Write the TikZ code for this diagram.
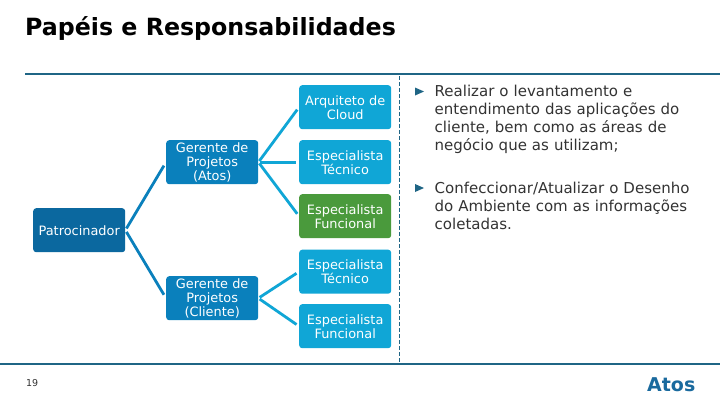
\documentclass[tikz,border=0pt]{standalone}
\usepackage{fontspec}
\setmainfont{DejaVu Sans}
\definecolor{rulec}{HTML}{1F6585}
\definecolor{patc}{HTML}{0B689F}
\definecolor{gerc}{HTML}{0A80BC}
\definecolor{espc}{HTML}{10A6D6}
\definecolor{grec}{HTML}{4A9A3C}
\definecolor{txtc}{HTML}{333333}
\definecolor{logoc}{HTML}{1A6A9E}
\tikzset{
 x=1pt,y=-1pt,
 boxbase/.style={rounded corners=3pt,minimum width=92pt,text width=90pt,align=center,inner sep=0pt,text=white,font=\fontsize{12.9}{14}\selectfont,anchor=north west},
 patbox/.style={boxbase,fill=patc,minimum height=44pt},
 gerbox/.style={boxbase,fill=gerc,minimum height=44pt},
 espbox/.style={boxbase,fill=espc,minimum height=44pt},
 grebox/.style={boxbase,fill=grec,minimum height=44pt},
 linka/.style={draw=gerc,line width=2.8pt,shorten >=4pt,shorten <=2pt},
 linkb/.style={draw=espc,line width=2.8pt,shorten >=3pt,shorten <=1.5pt},
 rulel/.style={draw=rulec,line width=2pt},
 bodyt/.style={anchor=north west,inner sep=0pt,text=txtc,text width=285pt,align=left,font=\fontsize{15}{18}\selectfont},
 bullet/.style={fill=rulec,draw=none},
}
\begin{document}
\begin{tikzpicture}
\useasboundingbox (0,0) rectangle (720,405);
\fill[white] (0,0) rectangle (720,405);
\node[anchor=west,inner sep=0pt,font=\bfseries\fontsize{23.7}{26}\selectfont,text=black] (title) at (25,28) {Papéis e Responsabilidades};
\coordinate (rt1) at (25,74); \coordinate (rt2) at (720,74);
\coordinate (rb1) at (0,364); \coordinate (rb2) at (720,364);
\coordinate (d1) at (399,76); \coordinate (d2) at (399,362);
\draw[rulel] (rt1) -- (rt2);
\draw[rulel] (rb1) -- (rb2);
\draw[draw=rulec,line width=1pt,dash pattern=on 3.5pt off 2.5pt] (d1) -- (d2);
\node[patbox] (pat) at (33,208) {Patrocinador};
\node[gerbox] (gera) at (166,140) {Gerente de\\Projetos\\(Atos)};
\node[gerbox] (gerc) at (166,276) {Gerente de\\Projetos\\(Cliente)};
\node[espbox] (arq) at (299,85) {Arquiteto de\\Cloud};
\node[espbox] (tec1) at (299,140) {Especialista\\Técnico};
\node[grebox] (fun1) at (299,194) {Especialista\\Funcional};
\node[espbox] (tec2) at (299,249.5) {Especialista\\Técnico};
\node[espbox] (fun2) at (299,304) {Especialista\\Funcional};
\draw[linka] (pat.east) -- (gera.west);
\draw[linka] (pat.east) -- (gerc.west);
\draw[linkb] (gera.east) -- (arq.west);
\draw[linkb] (gera.east) -- (tec1.west);
\draw[linkb] (gera.east) -- (fun1.west);
\draw[linkb] (gerc.east) -- (tec2.west);
\draw[linkb] (gerc.east) -- (fun2.west);
\fill[bullet] (415,87.5) -- (424,91.5) -- (415,95.5) -- cycle;
\fill[bullet] (415,184) -- (424,188) -- (415,192) -- cycle;
\node[bodyt] (b1) at (434.5,85) {Realizar o levantamento e\\entendimento das aplicações do\\cliente, bem como as áreas de\\negócio que as utilizam;};
\node[bodyt] (b2) at (434.5,181.5) {Confeccionar/Atualizar o Desenho\\do Ambiente com as informações\\coletadas.};
\node[anchor=west,inner sep=0pt,font=\fontsize{9.5}{10}\selectfont,text=txtc] (num) at (26,383) {19};
\node[anchor=west,inner sep=0pt,font=\bfseries\fontsize{19}{20}\selectfont,text=logoc] (logo) at (647,385) {Atos};
\end{tikzpicture}
\end{document}
